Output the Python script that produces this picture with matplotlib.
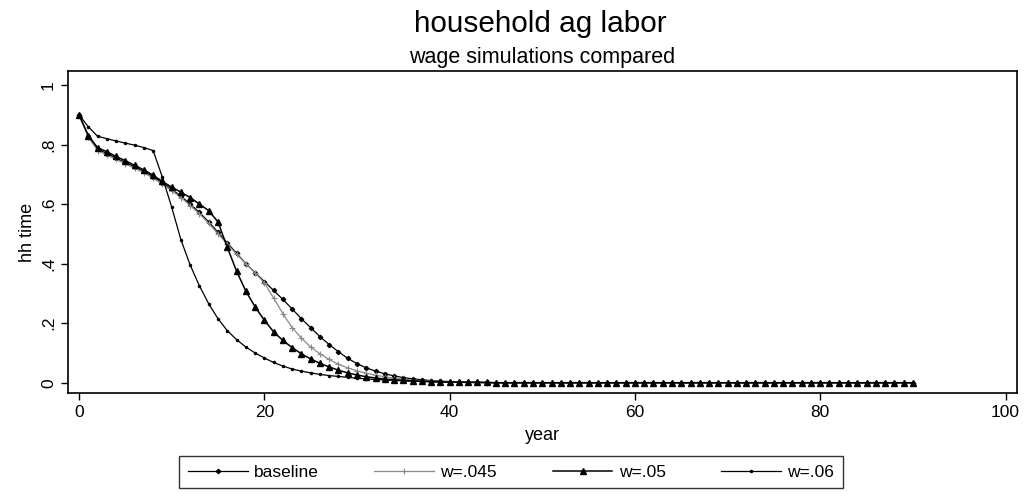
import numpy as np
from matplotlib import pyplot as plt

plt.rcParams['font.family'] = ['Liberation Sans', 'DejaVu Sans']

years = list(range(0, 91))

# years 0..44; all series sit at zero after that
baseline = [0.90, 0.83, 0.785, 0.77, 0.755, 0.74, 0.725, 0.71, 0.692, 0.672,
            0.65, 0.627, 0.60, 0.572, 0.54, 0.505, 0.47, 0.435, 0.40, 0.37,
            0.34, 0.31, 0.28, 0.248, 0.215, 0.185, 0.155, 0.128, 0.104, 0.082,
            0.064, 0.05, 0.039, 0.03, 0.023, 0.017, 0.013, 0.01, 0.007, 0.005,
            0.004, 0.003, 0.002, 0.001, 0.001] + [0.0] * 46
w045 = [0.90, 0.825, 0.78, 0.765, 0.75, 0.735, 0.72, 0.705, 0.687, 0.667,
        0.645, 0.622, 0.595, 0.567, 0.535, 0.50, 0.466, 0.432, 0.40, 0.37,
        0.335, 0.285, 0.232, 0.185, 0.15, 0.12, 0.097, 0.078, 0.062, 0.05,
        0.04, 0.032, 0.025, 0.02, 0.015, 0.012, 0.009, 0.007, 0.005, 0.004,
        0.003, 0.002, 0.001, 0.001, 0.0] + [0.0] * 46
w05 = [0.90, 0.83, 0.79, 0.776, 0.76, 0.746, 0.73, 0.715, 0.697, 0.676,
       0.657, 0.64, 0.622, 0.60, 0.578, 0.54, 0.455, 0.375, 0.308, 0.255,
       0.21, 0.171, 0.142, 0.118, 0.097, 0.08, 0.065, 0.053, 0.042, 0.033,
       0.026, 0.02, 0.016, 0.012, 0.01, 0.008, 0.006, 0.005, 0.004, 0.003,
       0.002, 0.002, 0.001, 0.001, 0.001] + [0.0] * 46
w06 = [0.90, 0.86, 0.828, 0.82, 0.812, 0.805, 0.798, 0.79, 0.78, 0.69,
       0.59, 0.48, 0.395, 0.325, 0.265, 0.215, 0.175, 0.145, 0.12, 0.10,
       0.083, 0.068, 0.056, 0.046, 0.039, 0.033, 0.028, 0.024, 0.021, 0.018,
       0.015, 0.013, 0.011, 0.009, 0.008, 0.006, 0.005, 0.004, 0.003, 0.002,
       0.002, 0.001, 0.001, 0.001, 0.0] + [0.0] * 46

fig = plt.figure(figsize=(10.29, 4.97), dpi=100)
ax = fig.add_axes([0.066, 0.209, 0.922, 0.648])

ax.plot(years, baseline, color="black", lw=0.9, marker="D", ms=2.2, label="baseline")
ax.plot(years, w045, color="#8a8a8a", lw=0.9, marker="+", ms=4, mew=0.8, label="w=.045")
ax.plot(years, w05, color="black", lw=1.1, marker="^", ms=5, label="w=.05")
ax.plot(years, w06, color="black", lw=0.9, marker="o", ms=1.5, label="w=.06")

ax.set_xlim(-1.2, 101.2)
ax.set_ylim(-0.035, 1.047)
ax.set_xticks([0, 20, 40, 60, 80, 100])
ax.set_yticks([0, 0.2, 0.4, 0.6, 0.8, 1.0])
ax.set_yticklabels(["0", ".2", ".4", ".6", ".8", "1"], rotation=90, va="center")
ax.tick_params(direction="out", length=5, width=1, labelsize=12.5, color="black")
for s in ax.spines.values():
    s.set_linewidth(1.2)

ax.set_xlabel("year", fontsize=13, labelpad=5)
ax.set_ylabel("hh time", fontsize=13, labelpad=4)

fig.text(0.525, 0.952, "household ag labor", ha="center", va="center", fontsize=21.4)
fig.text(0.527, 0.885, "wage simulations compared", ha="center", va="center", fontsize=15.5)

leg = fig.legend(loc="center", bbox_to_anchor=(0.4966, 0.05), ncol=4, fontsize=12.5,
                 frameon=True, fancybox=False, edgecolor="black", handlelength=3.45,
                 handletextpad=0.35, columnspacing=3.2, borderpad=0.5)
leg.get_frame().set_linewidth(1.0)

plt.savefig("out.png", dpi=100)
